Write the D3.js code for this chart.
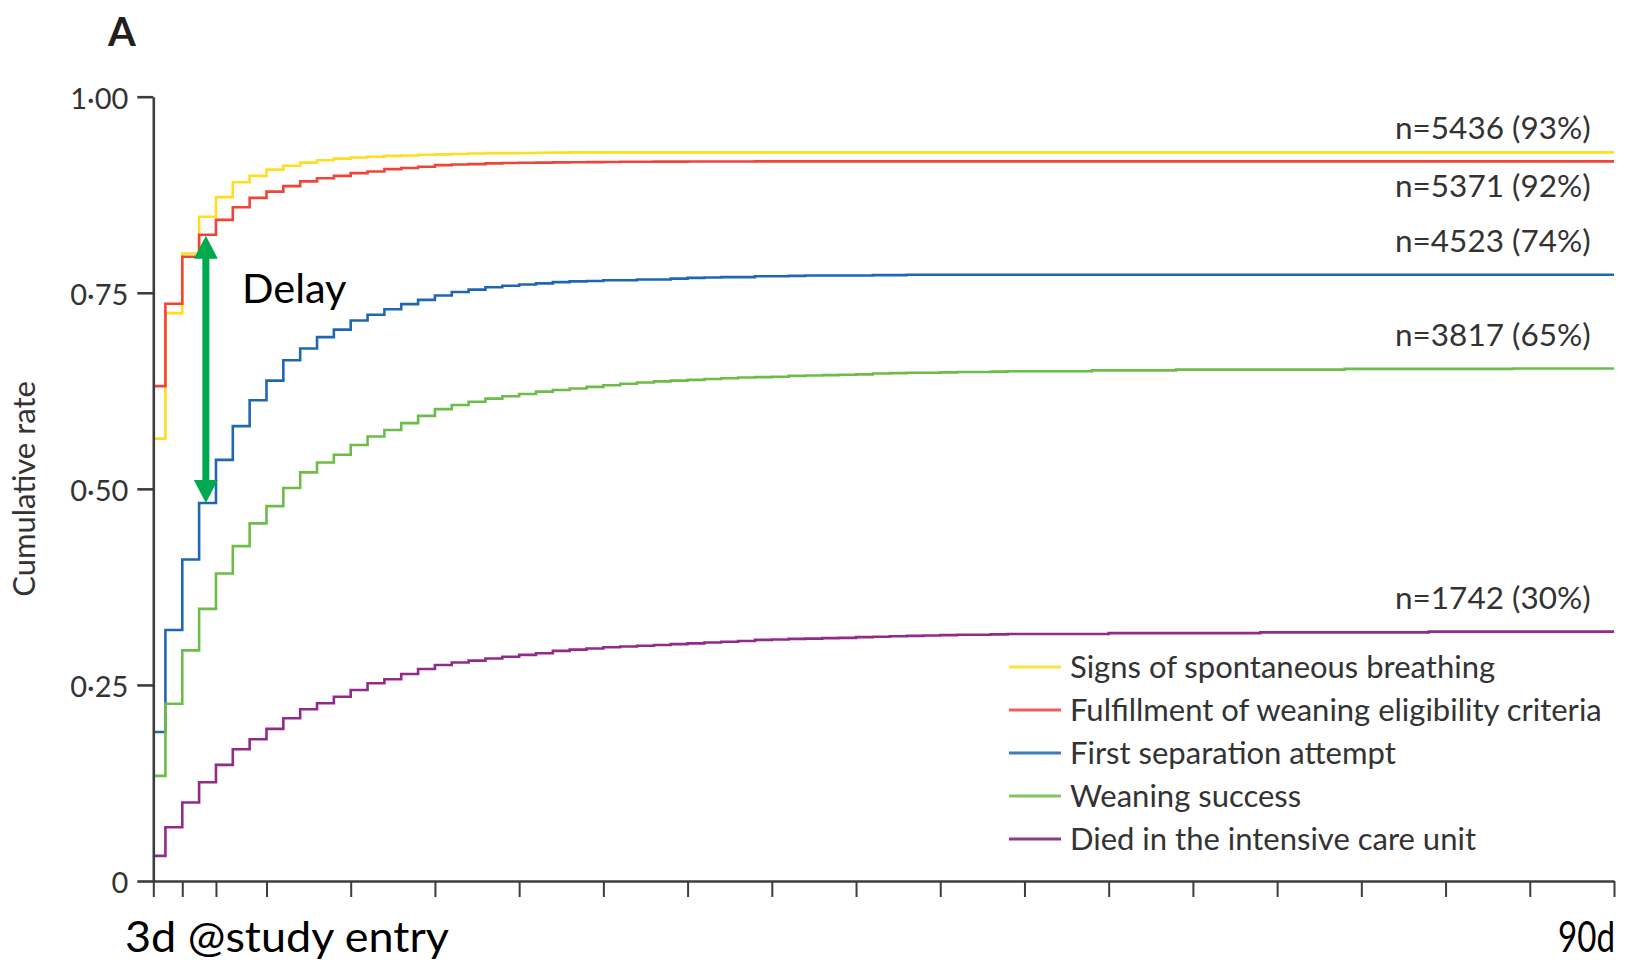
<!DOCTYPE html>
<html>
<head>
<meta charset="utf-8">
<script src="https://cdn.jsdelivr.net/npm/d3@7"></script>
<style>
  html, body { margin: 0; padding: 0; background: #fff; }
  svg { display: block; }
  text { font-family: Lato, "Open Sans", "Noto Sans", sans-serif; }
</style>
</head>
<body>
<svg id="chart" width="1639" height="966"></svg>
<script>
// Cumulative incidence per day since study entry (index 0 = interval before day 1).
// Each series is held at its last value to the end of follow-up.
const seriesNames = [
  "Signs of spontaneous breathing",
  "Fulfillment of weaning eligibility criteria",
  "First separation attempt",
  "Weaning success",
  "Died in the intensive care unit"
];
const seriesColors = ["#ffdd1f", "#f04438", "#2067b3", "#6cbd48", "#922a8c"];
const legendColors = ["#ffe23a", "#f25c5c", "#3b7cc0", "#84c65e", "#8d3a8c"];

const breathing = [0.564, 0.724, 0.800, 0.847, 0.872, 0.891, 0.899, 0.907, 0.912, 0.916,
  0.919, 0.921, 0.9225, 0.9235, 0.9245, 0.925, 0.926, 0.9265, 0.927, 0.9275,
  0.928, 0.928, 0.9283, 0.9285, 0.9287, 0.929];

const eligibility = [0.631, 0.736, 0.796, 0.824, 0.843, 0.859, 0.871, 0.879, 0.886, 0.892,
  0.896, 0.899, 0.9025, 0.9046, 0.9077, 0.909, 0.9107, 0.9128, 0.9136, 0.914,
  0.915, 0.9155, 0.9158, 0.916, 0.9162, 0.9164, 0.9166, 0.9168, 0.917, 0.917,
  0.9172, 0.9172, 0.9173, 0.9173, 0.9174, 0.9174, 0.9175];

const separation = [0.190, 0.320, 0.410, 0.482, 0.537, 0.580, 0.613, 0.638, 0.664, 0.679,
  0.6935, 0.703, 0.7147, 0.722, 0.729, 0.7355, 0.741, 0.7466, 0.751, 0.754,
  0.757, 0.759, 0.7605, 0.762, 0.7636, 0.7645, 0.765, 0.766, 0.766, 0.767,
  0.767, 0.768, 0.769, 0.7695, 0.770, 0.770, 0.771, 0.771, 0.7715, 0.772,
  0.772, 0.772, 0.772, 0.7725, 0.7725, 0.773];

const weaning = [0.134, 0.226, 0.294, 0.347, 0.392, 0.427, 0.456, 0.478, 0.501, 0.521,
  0.5336, 0.5434, 0.556, 0.5667, 0.575, 0.5838, 0.593, 0.6016, 0.607, 0.611,
  0.615, 0.618, 0.621, 0.624, 0.626, 0.628, 0.630, 0.632, 0.634, 0.6356,
  0.637, 0.638, 0.639, 0.640, 0.641, 0.642, 0.6425, 0.643, 0.644, 0.6445,
  0.645, 0.6455, 0.646, 0.647, 0.6475, 0.648, 0.648, 0.6485, 0.649, 0.649,
  0.6495, 0.650, 0.650, 0.650, 0.650, 0.650, 0.651, 0.651, 0.651, 0.651,
  0.651, 0.652, 0.652, 0.652, 0.652, 0.652, 0.652, 0.652, 0.652, 0.652,
  0.652, 0.653, 0.653, 0.653, 0.653, 0.653, 0.653, 0.653, 0.653, 0.653,
  0.653, 0.6535];

const died = [0.032, 0.0685, 0.100, 0.126, 0.148, 0.168, 0.1807, 0.194, 0.2075, 0.219,
  0.2266, 0.235, 0.2436, 0.2521, 0.2572, 0.264, 0.2704, 0.2755, 0.2785, 0.281,
  0.2836, 0.286, 0.2883, 0.2904, 0.2934, 0.295, 0.2965, 0.298, 0.299, 0.300,
  0.301, 0.302, 0.303, 0.304, 0.305, 0.306, 0.3074, 0.308, 0.3087, 0.309,
  0.3097, 0.310, 0.311, 0.3115, 0.312, 0.3125, 0.313, 0.3135, 0.314, 0.314,
  0.3145, 0.315, 0.315, 0.315, 0.315, 0.315, 0.315, 0.316, 0.316, 0.316,
  0.316, 0.316, 0.316, 0.316, 0.316, 0.316, 0.317, 0.317, 0.317, 0.317,
  0.317, 0.317, 0.317, 0.317, 0.317, 0.317, 0.318];

const seriesValues = [breathing, eligibility, separation, weaning, died];
const endLabels = ["n=5436 (93%)", "n=5371 (92%)", "n=4523 (74%)", "n=3817 (65%)", "n=1742 (30%)"];

// Axis layout (days since study entry)
const dayStart = 0.28;
const dayEnd = 87;
const xTicks = [dayStart, 2, 4, 7, 12, 17, 22, 27, 32, 37, 42, 47, 52, 57, 62, 67, 72, 77, 82, 87];
const yTicks = [0, 0.25, 0.5, 0.75, 1];
const yTickLabels = ["0", "0\u00b725", "0\u00b750", "0\u00b775", "1\u00b700"];

// "Delay" gap between eligibility and first separation attempt at day 3
const delayDay = 3.4;
const delayTop = 0.8227;
const delayBottom = 0.482;

const svg = d3.select("#chart");

const x = d3.scaleLinear().domain([dayStart, dayEnd]).range([153.3, 1614]);
const y = d3.scaleLinear().domain([0, 1]).range([881, 96.7]);

const axisColor = "#3d3d3d";
const textColor = "#333333";

// Curves
const line = d3.line()
  .x(d => x(d[0]))
  .y(d => y(d[1]))
  .curve(d3.curveStepAfter);

seriesValues.forEach((vals, i) => {
  const pts = vals.map((v, k) => [k === 0 ? dayStart : k, v]);
  pts.push([dayEnd, vals[vals.length - 1]]);
  svg.append("path")
    .attr("d", line(pts))
    .attr("fill", "none")
    .attr("stroke", seriesColors[i])
    .attr("stroke-width", 2.6);
});

// Y axis
const yAxis = d3.axisLeft(y)
  .tickValues(yTicks)
  .tickFormat((d, i) => yTickLabels[i])
  .tickSize(16)
  .tickSizeOuter(0)
  .tickPadding(9);

const gy = svg.append("g").attr("transform", `translate(${x(dayStart)},0)`).call(yAxis);
gy.select(".domain").attr("stroke", axisColor).attr("stroke-width", 2.6);
gy.selectAll(".tick line").attr("stroke", axisColor).attr("stroke-width", 2.6);
gy.selectAll(".tick text")
  .attr("fill", textColor)
  .style("font-size", "29px")
  .style("font-family", "Lato, sans-serif")
  .attr("dy", "0.4em");

// X axis
const xAxis = d3.axisBottom(x)
  .tickValues(xTicks)
  .tickFormat("")
  .tickSize(16)
  .tickSizeOuter(0);

const gx = svg.append("g").attr("transform", `translate(0,${y(0)})`).call(xAxis);
gx.select(".domain").attr("stroke", axisColor).attr("stroke-width", 2.6);
gx.selectAll(".tick line").attr("stroke", axisColor).attr("stroke-width", 2);

// Y axis title
svg.append("text")
  .attr("transform", "translate(35,489) rotate(-90)")
  .attr("text-anchor", "middle")
  .attr("fill", textColor)
  .style("font-size", "31px")
  .text("Cumulative rate");

// Panel letter
svg.append("text")
  .attr("x", 108).attr("y", 46)
  .attr("fill", "#231f20")
  .style("font-size", "40px")
  .style("font-weight", "700")
  .text("A");

// Final counts at the right end
const endLabelBaselines = [139, 197, 252, 346, 609];
endLabels.forEach((t, i) => {
  svg.append("text")
    .attr("x", 1395).attr("y", endLabelBaselines[i])
    .attr("fill", textColor)
    .style("font-size", "31.5px")
    .text(t);
});

// Legend
const legend = svg.append("g").attr("transform", "translate(1009,667)");
seriesNames.forEach((name, i) => {
  const g = legend.append("g").attr("transform", `translate(0,${i * 43})`);
  g.append("line")
    .attr("x1", 0).attr("x2", 52)
    .attr("stroke", legendColors[i])
    .attr("stroke-width", 3);
  g.append("text")
    .attr("x", 61).attr("y", 10.5)
    .attr("fill", textColor)
    .style("font-size", "31px")
    .text(name);
});

// Delay annotation: double-headed arrow
const ax = x(delayDay);
const yTop = y(delayTop);
const yBot = y(delayBottom);
const head = 23, halfW = 12;
svg.append("line")
  .attr("x1", ax).attr("x2", ax)
  .attr("y1", yTop + head - 2).attr("y2", yBot - head + 2)
  .attr("stroke", "#00a94f")
  .attr("stroke-width", 7);
svg.append("path")
  .attr("d", `M${ax},${yTop} L${ax - halfW},${yTop + head} L${ax + halfW},${yTop + head} Z`)
  .attr("fill", "#00a94f");
svg.append("path")
  .attr("d", `M${ax},${yBot} L${ax - halfW},${yBot - head} L${ax + halfW},${yBot - head} Z`)
  .attr("fill", "#00a94f");

svg.append("text")
  .attr("x", 242).attr("y", 302.7)
  .attr("fill", "#000")
  .style("font-size", "41.5px")
  .text("Delay");

// Time-window labels under the axis
svg.append("text")
  .attr("x", 125).attr("y", 952)
  .attr("fill", "#000")
  .style("font-size", "42px")
  .attr("textLength", 324)
  .attr("lengthAdjust", "spacingAndGlyphs")
  .text("3d @study entry");

svg.append("text")
  .attr("x", 1558).attr("y", 952)
  .attr("fill", "#000")
  .style("font-size", "42px")
  .attr("textLength", 57)
  .attr("lengthAdjust", "spacingAndGlyphs")
  .text("90d");
</script>
</body>
</html>
